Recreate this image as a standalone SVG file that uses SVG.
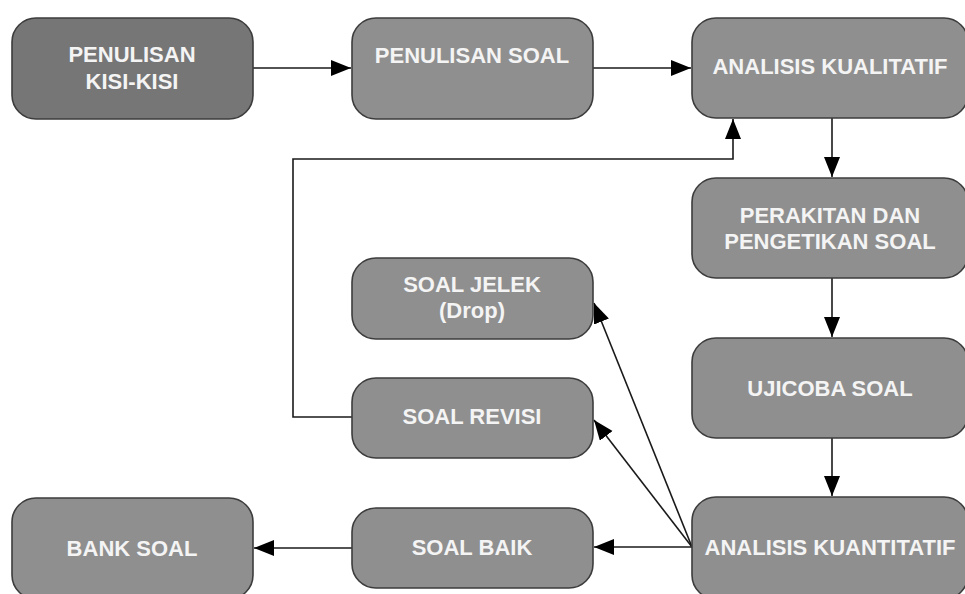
<svg xmlns="http://www.w3.org/2000/svg" width="965" height="594" viewBox="0 0 965 594">
<style>
.box{fill:#8f8f8f;stroke:#3c3c3c;stroke-width:1.6}
.dark{fill:#767676}
.t{font-family:"Liberation Sans",Arial,sans-serif;font-weight:bold;font-size:22px;fill:#f4f4f4;text-anchor:middle}
.c{fill:none;stroke:#1a1a1a;stroke-width:1.6}
</style>
<defs>
<marker id="ah" markerUnits="userSpaceOnUse" markerWidth="22" markerHeight="18" refX="20" refY="8" orient="auto">
<path d="M0,0 L20,8 L0,16 z" fill="#000"/>
</marker>
</defs>
<rect width="965" height="594" fill="#fff"/>
<g id="connectors">
<line class="c" x1="253" y1="68" x2="351" y2="68" marker-end="url(#ah)"/>
<line class="c" x1="593" y1="68" x2="691" y2="68" marker-end="url(#ah)"/>
<line class="c" x1="832" y1="118" x2="832" y2="177" marker-end="url(#ah)"/>
<line class="c" x1="832" y1="278" x2="832" y2="337" marker-end="url(#ah)"/>
<line class="c" x1="832" y1="438" x2="832" y2="496" marker-end="url(#ah)"/>
<polyline class="c" points="352,417 293,417 293,159 733,159 733,119" marker-end="url(#ah)"/>
<line class="c" x1="692" y1="547" x2="594" y2="303" marker-end="url(#ah)"/>
<line class="c" x1="692" y1="547" x2="594" y2="420" marker-end="url(#ah)"/>
<line class="c" x1="692" y1="547" x2="594" y2="547" marker-end="url(#ah)"/>
<line class="c" x1="352" y1="548" x2="254" y2="548" marker-end="url(#ah)"/>
</g>
<g id="penulisan-kisi">
<rect class="box dark" x="12" y="18" width="241" height="101" rx="24"/>
<text class="t" x="132" y="62">PENULISAN</text>
<text class="t" x="132" y="89">KISI-KISI</text>
</g>
<g id="penulisan-soal">
<rect class="box" x="352" y="18" width="241" height="101" rx="24"/>
<text class="t" x="472" y="63">PENULISAN SOAL</text>
</g>
<g id="analisis-kualitatif">
<rect class="box" x="692" y="18" width="276" height="100" rx="24"/>
<text class="t" x="830" y="74">ANALISIS KUALITATIF</text>
</g>
<g id="perakitan">
<rect class="box" x="692" y="178" width="276" height="100" rx="24"/>
<text class="t" x="830" y="223">PERAKITAN DAN</text>
<text class="t" x="830" y="249">PENGETIKAN SOAL</text>
</g>
<g id="ujicoba">
<rect class="box" x="692" y="338" width="276" height="100" rx="24"/>
<text class="t" x="830" y="396">UJICOBA SOAL</text>
</g>
<g id="analisis-kuantitatif">
<rect class="box" x="692" y="497" width="276" height="102" rx="24"/>
<text class="t" x="830" y="555">ANALISIS KUANTITATIF</text>
</g>
<g id="soal-jelek">
<rect class="box" x="352" y="258" width="241" height="81" rx="24"/>
<text class="t" x="472" y="292">SOAL JELEK</text>
<text class="t" x="472" y="318">(Drop)</text>
</g>
<g id="soal-revisi">
<rect class="box" x="352" y="378" width="241" height="80" rx="24"/>
<text class="t" x="472" y="424">SOAL REVISI</text>
</g>
<g id="soal-baik">
<rect class="box" x="352" y="508" width="241" height="80" rx="24"/>
<text class="t" x="472" y="555">SOAL BAIK</text>
</g>
<g id="bank-soal">
<rect class="box" x="12" y="498" width="241" height="101" rx="24"/>
<text class="t" x="132" y="556">BANK SOAL</text>
</g>
</svg>
